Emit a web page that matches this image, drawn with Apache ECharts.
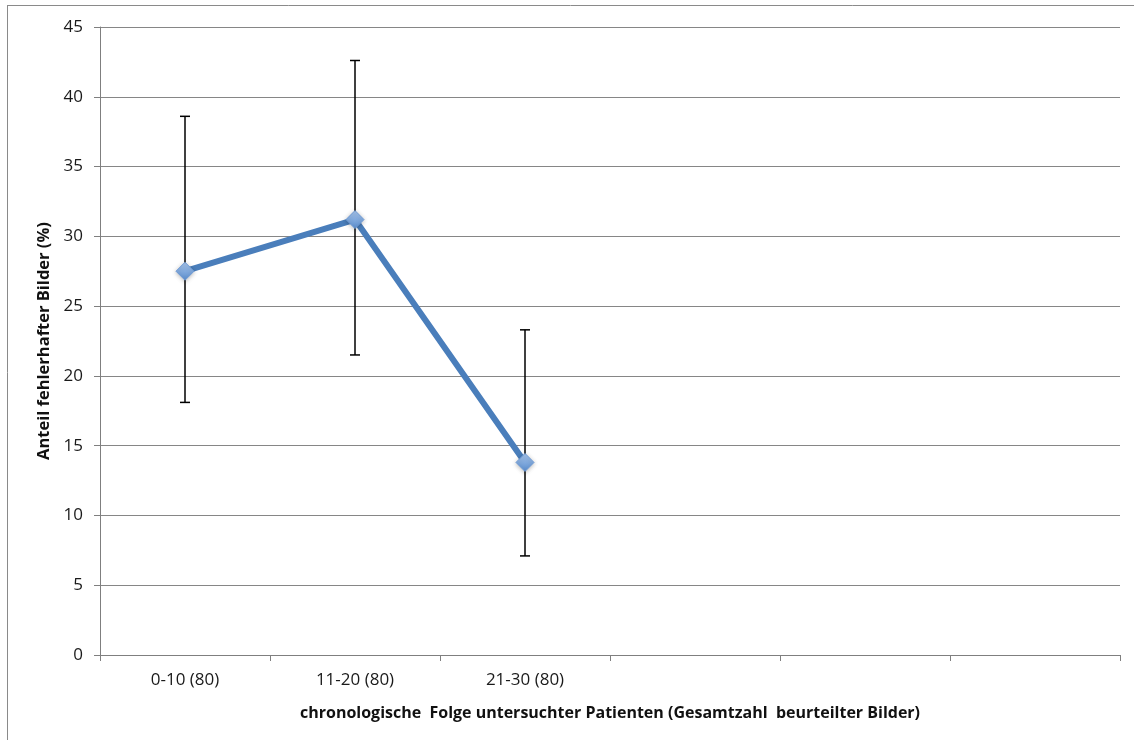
<!DOCTYPE html>
<html>
<head>
<meta charset="utf-8">
<script src="https://cdn.jsdelivr.net/npm/echarts@6/dist/echarts.min.js"></script>
<style>html,body{margin:0;padding:0;background:#fff}#c{width:1134px;height:740px}</style>
</head>
<body>
<div id="c"></div>
<script>
var categories = ['0-10 (80)', '11-20 (80)', '21-30 (80)', '', '', ''];
var values = [27.5, 31.2, 13.8];
var errLow = [18.1, 21.5, 7.1];
var errHigh = [38.6, 42.6, 23.3];
var yTicks = {min: 0, max: 45, interval: 5};
var xName = 'chronologische  Folge untersuchter Patienten (Gesamtzahl  beurteilter Bilder)';
var yName = 'Anteil fehlerhafter Bilder (%)';

var errData = values.map(function (v, i) { return [i, errLow[i], errHigh[i]]; });

var chart = echarts.init(document.getElementById('c'));
var font = '"Open Sans", "Liberation Sans", sans-serif';
chart.setOption({
  animation: false,
  backgroundColor: '#fff',
  textStyle: {fontFamily: font},
  graphic: [
    {type: 'line', shape: {x1: 7, y1: 5.5, x2: 1134, y2: 5.5}, style: {stroke: '#8a8a8a', lineWidth: 1}},
    {type: 'line', shape: {x1: 7.5, y1: 5, x2: 7.5, y2: 740}, style: {stroke: '#8a8a8a', lineWidth: 1}}
  ],
  grid: {left: 100, right: 14, top: 27, bottom: 85, containLabel: false},
  xAxis: {
    type: 'category',
    data: categories,
    boundaryGap: true,
    axisLine: {lineStyle: {color: '#7f7f7f', width: 1}},
    axisTick: {show: true, length: 6, lineStyle: {color: '#7f7f7f'}, alignWithLabel: false},
    axisLabel: {color: '#1a1a1a', fontSize: 17, margin: 17, fontFamily: font, interval: 0},
    splitLine: {show: false},
    name: xName,
    nameLocation: 'middle',
    nameGap: 50,
    nameTextStyle: {color: '#111', fontSize: 16, fontWeight: 'bold', fontFamily: font}
  },
  yAxis: {
    type: 'value',
    min: yTicks.min,
    max: yTicks.max,
    interval: yTicks.interval,
    axisLine: {show: true, lineStyle: {color: '#7f7f7f', width: 1}},
    axisTick: {show: true, length: 6, lineStyle: {color: '#7f7f7f'}},
    axisLabel: {color: '#1a1a1a', fontSize: 17, margin: 17, fontFamily: font},
    splitLine: {show: true, lineStyle: {color: '#868686', width: 1}},
    name: yName,
    nameLocation: 'middle',
    nameGap: 45,
    nameRotate: 90,
    nameTextStyle: {color: '#111', fontSize: 16.5, fontWeight: 'bold', fontFamily: font}
  },
  series: [
    {
      type: 'custom',
      z: 3,
      data: errData,
      renderItem: function (params, api) {
        var x = api.value(0);
        var lo = api.coord([x, api.value(1)]);
        var hi = api.coord([x, api.value(2)]);
        var w = 5;
        var st = {stroke: '#000', lineWidth: 1.5};
        return {
          type: 'group',
          children: [
            {type: 'line', shape: {x1: lo[0], y1: lo[1], x2: hi[0], y2: hi[1]}, style: st},
            {type: 'line', shape: {x1: lo[0] - w, y1: lo[1], x2: lo[0] + w, y2: lo[1]}, style: st},
            {type: 'line', shape: {x1: hi[0] - w, y1: hi[1], x2: hi[0] + w, y2: hi[1]}, style: st}
          ]
        };
      }
    },
    {
      type: 'line',
      z: 4,
      data: values,
      lineStyle: {color: '#4a7ebb', width: 6},
      symbol: 'diamond',
      symbolSize: 18,
      itemStyle: {
        color: new echarts.graphic.LinearGradient(0, 0, 0, 1, [
          {offset: 0, color: '#a7c4ea'},
          {offset: 1, color: '#5b8fd0'}
        ]),
        borderColor: '#6d9ad6',
        borderWidth: 1,
        shadowBlur: 4,
        shadowColor: 'rgba(0,0,0,0.25)',
        shadowOffsetY: 1
      }
    }
  ]
});
</script>
</body>
</html>
